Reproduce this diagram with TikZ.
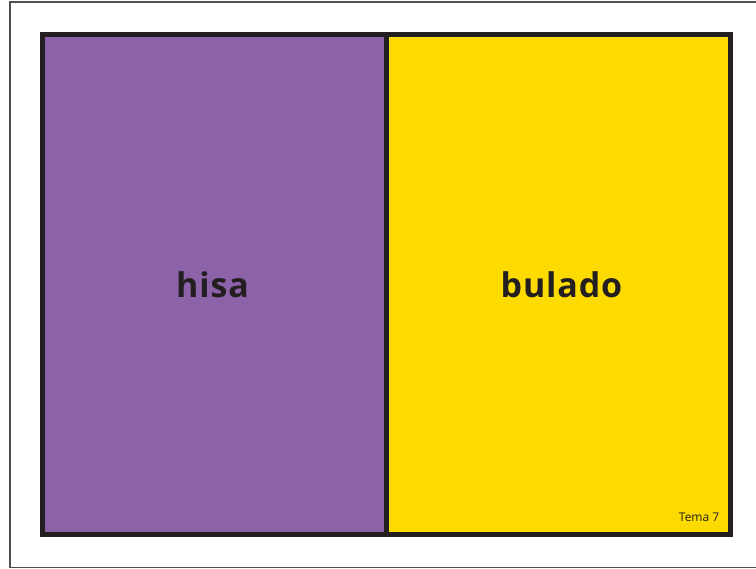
\documentclass[tikz,border=0pt]{standalone}
\usepackage{fontspec}
\setmainfont{Open Sans}
\newfontfamily\wordfont[LetterSpace=2.5]{Open Sans}
\definecolor{purp}{HTML}{8C62A8}
\definecolor{yel}{HTML}{FDDB00}
\definecolor{ink}{HTML}{231F20}
\definecolor{rule}{HTML}{505050}
\begin{document}
\begin{tikzpicture}[x=1pt,y=-1pt,
  panel/.style={draw=ink,line width=5pt},
  bigword/.style={font=\wordfont\fontsize{34}{36}\selectfont\bfseries,text=ink,anchor=base,inner sep=0pt},
  smallword/.style={font=\fontsize{12}{14}\selectfont,text=ink,anchor=base east,inner sep=0pt}]
\useasboundingbox (0,0) rectangle (756,569);
\fill[white] (0,0) rectangle (756,569);
\draw[rule,line width=1.2pt] (760,2) -- (10,2) -- (10,567.5) -- (760,567.5);
\fill[purp] (42,34.5) rectangle (386,535);
\fill[yel] (386,34.5) rectangle (730.5,535);
\draw[panel] (42,34.5) rectangle (730.5,535);
\draw[panel] (386,34.5) -- (386,535);
\node[bigword] (hisa) at (212.5,298) {hisa};
\node[bigword] (bulado) at (561.5,298) {bulado};
\node[smallword] (tema) at (719.5,521.5) {Tema 7};
\end{tikzpicture}
\end{document}
